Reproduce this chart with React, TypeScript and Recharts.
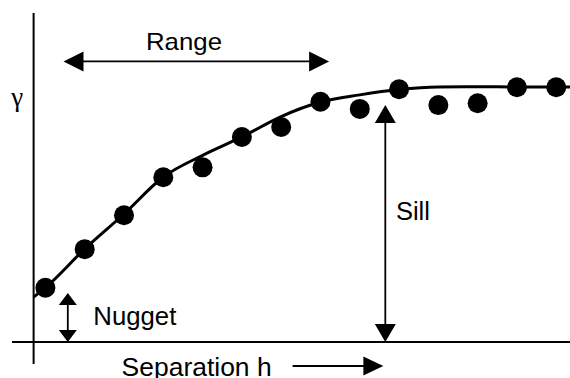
import React from 'react';
import {
  ComposedChart,
  Line,
  Scatter,
  XAxis,
  YAxis,
  ReferenceLine,
  ReferenceDot,
} from 'recharts';

// experimental semivariogram points (lag h, gamma)
const lags = [0.3, 1.3, 2.3, 3.3, 4.3, 5.3, 6.3, 7.3, 8.3, 9.3, 10.3, 11.3, 12.3, 13.3];
const gammaValues = [21.3, 36.4, 49.7, 64.6, 68.5, 80.4, 84.3, 94.2, 91.4, 99.1, 92.9, 93.6, 99.9, 99.9];

// fitted model curve
const modelLags = [0, 0.3, 1.3, 2.3, 3.3, 4.3, 5.3, 6.3, 7.3, 8.3, 9.3, 10.3, 11.3, 12.3, 13.3, 13.65];
const modelGamma = [17.6, 21.3, 36.5, 50.2, 64.7, 73.2, 80.4, 88.4, 94.1, 96.9, 99.0, 100, 100.1, 100, 100, 100];

const points = lags.map((h, i) => ({ h, g: gammaValues[i] }));
const model = modelLags.map((h, i) => ({ h, g: modelGamma[i] }));

const SANS = 'Liberation Sans, Arial, Helvetica, sans-serif';

// line with filled arrow heads, drawn in the pixel coords recharts gives us
const arrowShape = (head: number, half: number, both: boolean) => (props: any) => {
  const { x1, y1, x2, y2 } = props;
  const dx = x2 - x1;
  const dy = y2 - y1;
  const len = Math.sqrt(dx * dx + dy * dy) || 1;
  const ux = dx / len;
  const uy = dy / len;
  const nx = -uy;
  const ny = ux;
  const tri = (tx: number, ty: number, dir: number) => {
    const bx = tx - dir * ux * head;
    const by = ty - dir * uy * head;
    return `${tx},${ty} ${bx + nx * half},${by + ny * half} ${bx - nx * half},${by - ny * half}`;
  };
  const sx = both ? x1 + ux * (head - 1) : x1;
  const sy = both ? y1 + uy * (head - 1) : y1;
  return (
    <g>
      <line x1={sx} y1={sy} x2={x2 - ux * (head - 1)} y2={y2 - uy * (head - 1)} stroke="#000" strokeWidth={1.8} />
      <polygon points={tri(x2, y2, 1)} fill="#000" />
      {both && <polygon points={tri(x1, y1, -1)} fill="#000" />}
    </g>
  );
};

const textShape = (text: string, size: number, width?: number, family = SANS, anchor = 'start') => (props: any) => (
  <text
    x={props.cx}
    y={props.cy}
    fontSize={size}
    fontFamily={family}
    fill="#000"
    textAnchor={anchor as any}
    textLength={width}
    lengthAdjust={width ? 'spacingAndGlyphs' : undefined}
  >
    {text}
  </text>
);

export default function App() {
  return (
    <div style={{ position: 'absolute', left: 0, top: 0, background: '#fff' }}>
      <ComposedChart
        width={570}
        height={378}
        margin={{ top: 13, right: 0, bottom: 0, left: 12 }}
      >
        <XAxis dataKey="h" type="number" domain={[-0.55, 13.65]} hide allowDataOverflow />
        <YAxis dataKey="g" type="number" domain={[-14.1, 129]} hide allowDataOverflow />

        {/* axes */}
        <ReferenceLine segment={[{ x: 0, y: -8.6 }, { x: 0, y: 129 }]} stroke="#000" strokeWidth={2} />
        <ReferenceLine y={0} stroke="#000" strokeWidth={2} />

        {/* annotations */}
        <ReferenceLine segment={[{ x: 0.76, y: 110 }, { x: 7.52, y: 110 }]} shape={arrowShape(20, 10, true)} />
        <ReferenceLine segment={[{ x: 8.95, y: 0 }, { x: 8.95, y: 92.9 }]} shape={arrowShape(18, 10.5, true)} />
        <ReferenceLine segment={[{ x: 0.87, y: 0 }, { x: 0.87, y: 19.2 }]} shape={arrowShape(12, 9, true)} />
        <ReferenceLine segment={[{ x: 6.59, y: -9.4 }, { x: 8.9, y: -9.4 }]} shape={arrowShape(20, 9.5, false)} />

        <ReferenceDot x={2.86} y={114.5} shape={textShape('Range', 24, 76)} />
        <ReferenceDot x={9.22} y={47.8} shape={textShape('Sill', 25, 34)} />
        <ReferenceDot x={1.52} y={6.7} shape={textShape('Nugget', 25, 83)} />
        <ReferenceDot x={2.24} y={-13.4} shape={textShape('Separation h', 25, 150)} />
        <ReferenceDot x={-0.42} y={92.5} shape={textShape('γ', 27, undefined, 'Liberation Serif, Times New Roman, serif', 'middle')} />

        <Line
          data={model}
          dataKey="g"
          type="monotone"
          stroke="#000"
          strokeWidth={3}
          dot={false}
          activeDot={false}
          isAnimationActive={false}
        />
        <Scatter
          data={points}
          dataKey="g"
          fill="#000"
          isAnimationActive={false}
          shape={(p: any) => <circle cx={p.cx} cy={p.cy} r={10} fill="#000" />}
        />
      </ComposedChart>
    </div>
  );
}
